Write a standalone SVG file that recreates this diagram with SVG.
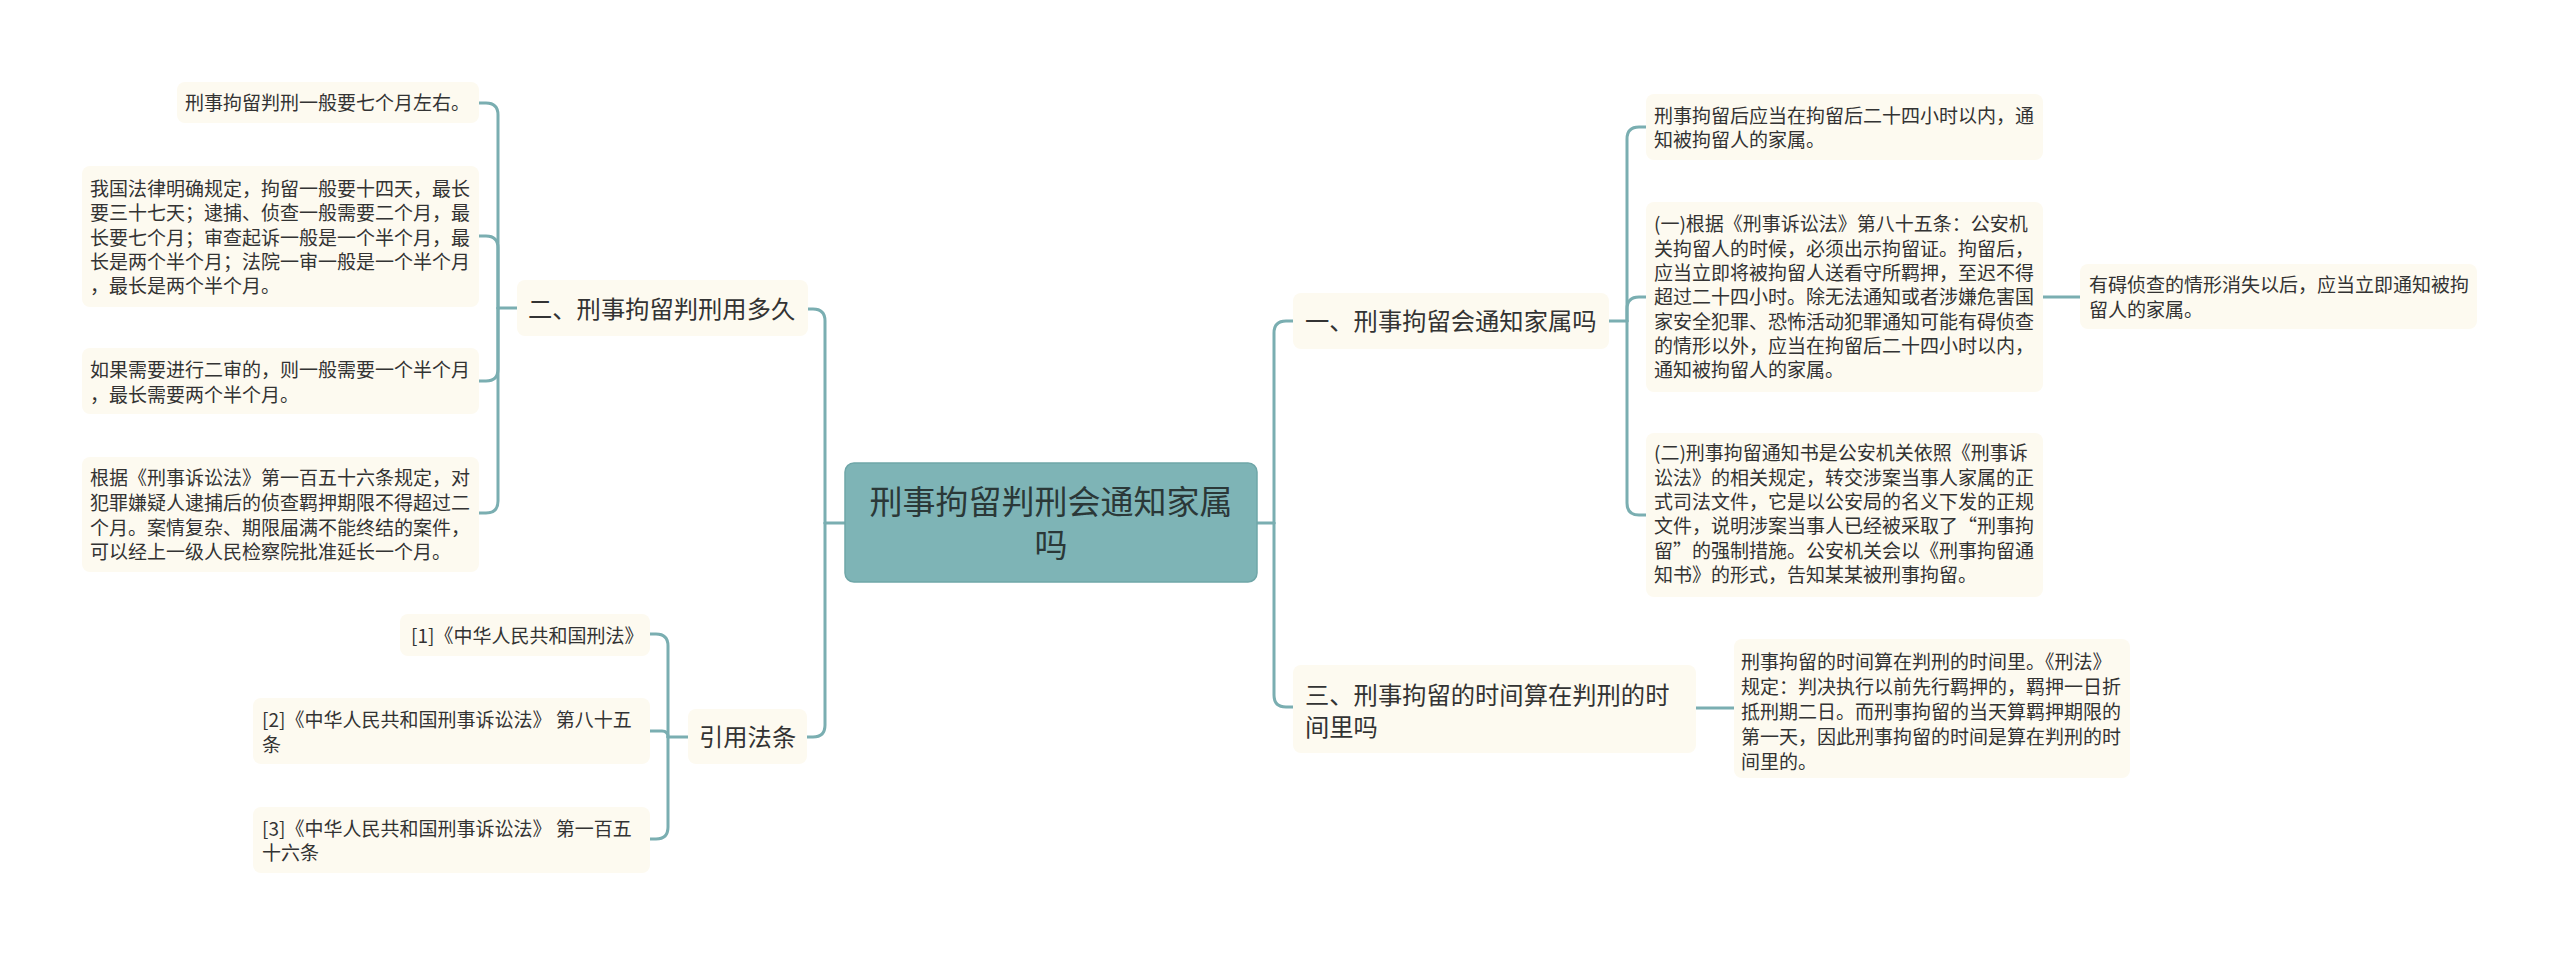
<svg xmlns="http://www.w3.org/2000/svg" width="2560" height="955" viewBox="0 0 2560 955">
<style>
.bg{fill:#ffffff}
.leaf{fill:#fdfaf0}
.t{font-family:"Noto Sans CJK SC","Noto Sans",sans-serif;fill:#333333}
.s{font-size:19px}
.m{font-size:24.3px}
.c{font-size:33px;fill:#2b3838}
.root{fill:#7eb4b6;stroke:#6fa6a8;stroke-width:1.5}
.ln{fill:none;stroke:#7aaeb1;stroke-width:3;stroke-linecap:round;stroke-linejoin:round}
</style>
<rect class="bg" x="0" y="0" width="2560" height="955"/>
<g id="connectors">
<path class="ln" d="M845,523 H825"/>
<path class="ln" d="M825,523 V321 Q825,309 813,309 H808"/>
<path class="ln" d="M825,523 V725 Q825,737 813,737 H807"/>
<path class="ln" d="M517,308 H498"/>
<path class="ln" d="M498,308 V115 Q498,103 486,103 H479"/>
<path class="ln" d="M498,308 V248 Q498,236 486,236 H479"/>
<path class="ln" d="M498,308 V369 Q498,381 486,381 H479"/>
<path class="ln" d="M498,308 V501 Q498,513 486,513 H479"/>
<path class="ln" d="M688,737 H668"/>
<path class="ln" d="M668,737 V646 Q668,634 656,634 H650"/>
<path class="ln" d="M668,737 Q668,731 662,731 H650"/>
<path class="ln" d="M668,737 V827 Q668,839 656,839 H650"/>
<path class="ln" d="M1257,523 H1274"/>
<path class="ln" d="M1274,523 V333 Q1274,321 1286,321 H1293"/>
<path class="ln" d="M1274,523 V695 Q1274,707 1286,707 H1293"/>
<path class="ln" d="M1609,321 H1627"/>
<path class="ln" d="M1627,321 V139 Q1627,127 1639,127 H1646"/>
<path class="ln" d="M1627,321 V309 Q1627,297 1639,297 H1646"/>
<path class="ln" d="M1627,321 V503 Q1627,515 1639,515 H1646"/>
<path class="ln" d="M2043,297 H2080"/>
<path class="ln" d="M1696,708 H1734"/>
</g>
<g id="root">
<rect class="root" x="845" y="463" width="412" height="119" rx="9"/>
<text class="t c" x="1051" y="514" text-anchor="middle">刑事拘留判刑会通知家属</text>
<text class="t c" x="1051" y="557" text-anchor="middle">吗</text>
</g>
<g id="b2">
<rect class="leaf" x="517" y="280" width="291" height="56" rx="8"/>
<text class="t m" x="528" y="318">二、刑事拘留判刑用多久</text>
</g>
<g id="b2c1">
<rect class="leaf" x="177" y="82" width="302" height="41" rx="8"/>
<text class="t s" x="185" y="110">刑事拘留判刑一般要七个月左右。</text>
</g>
<g id="b2c2">
<rect class="leaf" x="82" y="166" width="397" height="141" rx="8"/>
<text class="t s" x="90" y="196">我国法律明确规定，拘留一般要十四天，最长</text>
<text class="t s" x="90" y="220">要三十七天；逮捕、侦查一般需要二个月，最</text>
<text class="t s" x="90" y="244.5">长要七个月；审查起诉一般是一个半个月，最</text>
<text class="t s" x="90" y="268.5">长是两个半个月；法院一审一般是一个半个月</text>
<text class="t s" x="90" y="293">，最长是两个半个月。</text>
</g>
<g id="b2c3">
<rect class="leaf" x="82" y="348" width="397" height="66" rx="8"/>
<text class="t s" x="90" y="377">如果需要进行二审的，则一般需要一个半个月</text>
<text class="t s" x="90" y="402">，最长需要两个半个月。</text>
</g>
<g id="b2c4">
<rect class="leaf" x="82" y="457" width="397" height="115" rx="8"/>
<text class="t s" x="90" y="485">根据《刑事诉讼法》第一百五十六条规定，对</text>
<text class="t s" x="90" y="510">犯罪嫌疑人逮捕后的侦查羁押期限不得超过二</text>
<text class="t s" x="90" y="535">个月。案情复杂、期限届满不能终结的案件，</text>
<text class="t s" x="90" y="559">可以经上一级人民检察院批准延长一个月。</text>
</g>
<g id="b4">
<rect class="leaf" x="688" y="709" width="119" height="55" rx="8"/>
<text class="t m" x="699" y="746">引用法条</text>
</g>
<g id="b4c1">
<rect class="leaf" x="400" y="614" width="250" height="42" rx="8"/>
<text class="t s" x="411" y="643">[1]《中华人民共和国刑法》</text>
</g>
<g id="b4c2">
<rect class="leaf" x="253" y="698" width="397" height="66" rx="8"/>
<text class="t s" x="262" y="727">[2]《中华人民共和国刑事诉讼法》 第八十五</text>
<text class="t s" x="262" y="752">条</text>
</g>
<g id="b4c3">
<rect class="leaf" x="253" y="807" width="397" height="66" rx="8"/>
<text class="t s" x="262" y="836">[3]《中华人民共和国刑事诉讼法》 第一百五</text>
<text class="t s" x="262" y="860">十六条</text>
</g>
<g id="b1">
<rect class="leaf" x="1293" y="293" width="316" height="56" rx="8"/>
<text class="t m" x="1305" y="330">一、刑事拘留会通知家属吗</text>
</g>
<g id="b1c1">
<rect class="leaf" x="1646" y="94" width="397" height="66" rx="8"/>
<text class="t s" x="1654" y="123">刑事拘留后应当在拘留后二十四小时以内，通</text>
<text class="t s" x="1654" y="147">知被拘留人的家属。</text>
</g>
<g id="b1c2">
<rect class="leaf" x="1646" y="202" width="397" height="190" rx="8"/>
<text class="t s" x="1654" y="231.4">(一)根据《刑事诉讼法》第八十五条：公安机</text>
<text class="t s" x="1654" y="255.7">关拘留人的时候，必须出示拘留证。拘留后，</text>
<text class="t s" x="1654" y="280">应当立即将被拘留人送看守所羁押，至迟不得</text>
<text class="t s" x="1654" y="304.3">超过二十四小时。除无法通知或者涉嫌危害国</text>
<text class="t s" x="1654" y="328.6">家安全犯罪、恐怖活动犯罪通知可能有碍侦查</text>
<text class="t s" x="1654" y="352.9">的情形以外，应当在拘留后二十四小时以内，</text>
<text class="t s" x="1654" y="377.2">通知被拘留人的家属。</text>
</g>
<g id="b1c2c1">
<rect class="leaf" x="2080" y="264" width="397" height="65" rx="8"/>
<text class="t s" x="2089" y="292">有碍侦查的情形消失以后，应当立即通知被拘</text>
<text class="t s" x="2089" y="317">留人的家属。</text>
</g>
<g id="b1c3">
<rect class="leaf" x="1646" y="433" width="397" height="164" rx="8"/>
<text class="t s" x="1654" y="460.4">(二)刑事拘留通知书是公安机关依照《刑事诉</text>
<text class="t s" x="1654" y="484.7">讼法》的相关规定，转交涉案当事人家属的正</text>
<text class="t s" x="1654" y="509">式司法文件，它是以公安局的名义下发的正规</text>
<text class="t s" x="1654" y="533.3">文件，说明涉案当事人已经被采取了“刑事拘</text>
<text class="t s" x="1654" y="557.6">留”的强制措施。公安机关会以《刑事拘留通</text>
<text class="t s" x="1654" y="581.9">知书》的形式，告知某某被刑事拘留。</text>
</g>
<g id="b3">
<rect class="leaf" x="1293" y="665" width="403" height="88" rx="8"/>
<text class="t m" x="1305" y="704">三、刑事拘留的时间算在判刑的时</text>
<text class="t m" x="1305" y="736">间里吗</text>
</g>
<g id="b3c1">
<rect class="leaf" x="1734" y="639" width="396" height="139" rx="8"/>
<text class="t s" x="1741" y="668.5">刑事拘留的时间算在判刑的时间里。《刑法》</text>
<text class="t s" x="1741" y="693.5">规定：判决执行以前先行羁押的，羁押一日折</text>
<text class="t s" x="1741" y="718.5">抵刑期二日。而刑事拘留的当天算羁押期限的</text>
<text class="t s" x="1741" y="743.5">第一天，因此刑事拘留的时间是算在判刑的时</text>
<text class="t s" x="1741" y="768.5">间里的。</text>
</g>
</svg>
